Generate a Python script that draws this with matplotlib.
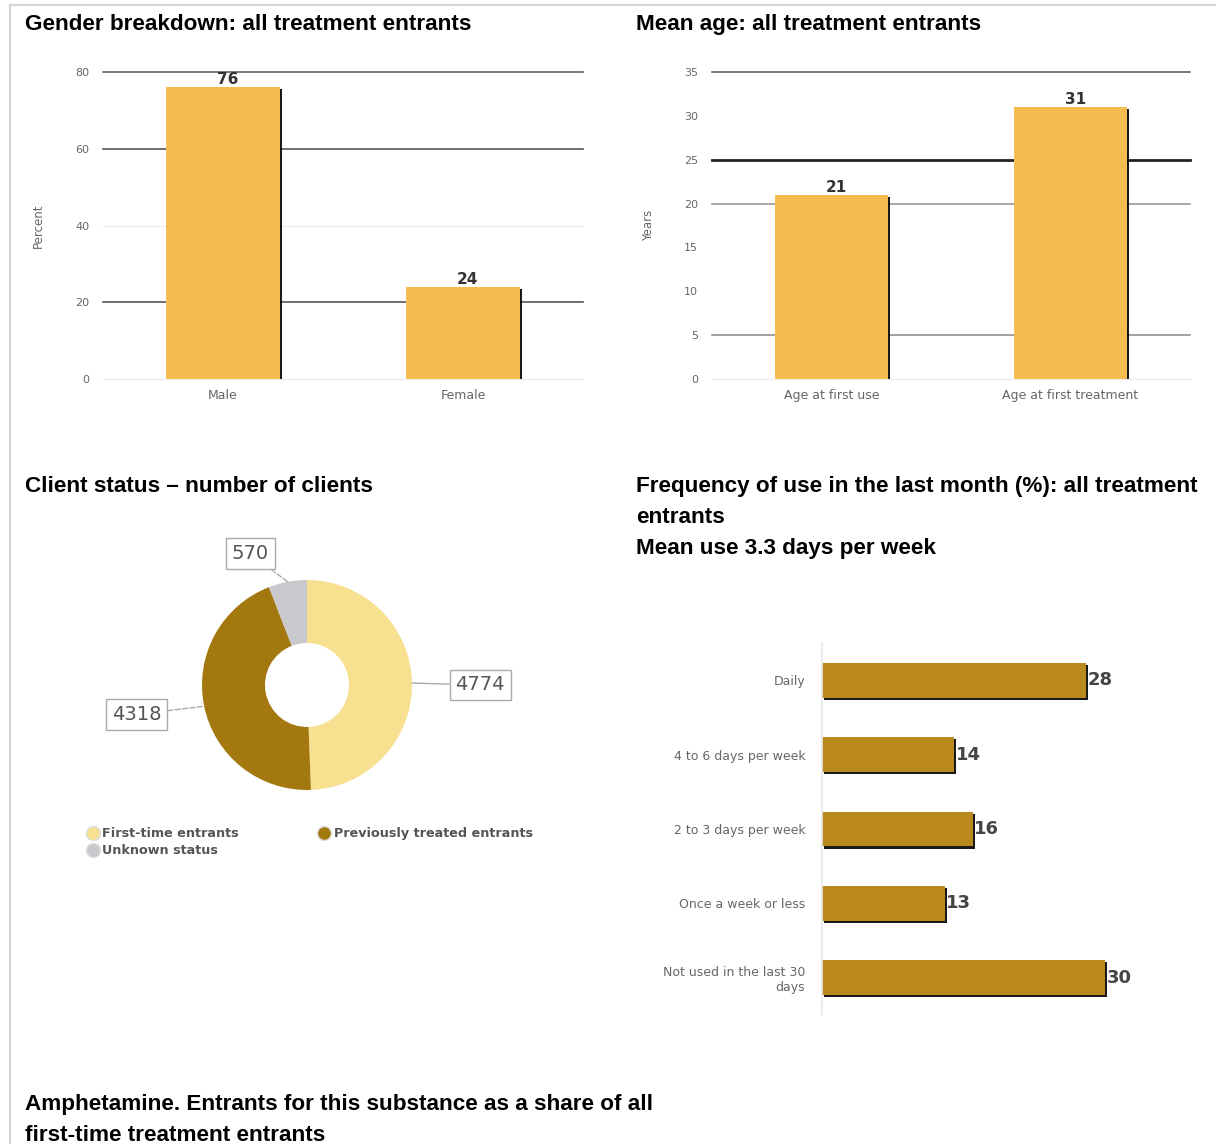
import numpy as np
import matplotlib
matplotlib.use('Agg')
import matplotlib.pyplot as plt
import matplotlib.patheffects as pe
from matplotlib.lines import Line2D

W, H = 1216, 1144
plt.rcParams['font.family'] = ['DejaVu Sans']

# data
gender_labels = ['Male', 'Female']
gender_pct = [76, 24]

age_labels = ['Age at first use', 'Age at first treatment']
age_years = [21, 31]

status_labels = ['First-time entrants', 'Previously treated entrants', 'Unknown status']
status_counts = [4774, 4318, 570]

freq_labels = ['Daily', '4 to 6 days per week', '2 to 3 days per week',
               'Once a week or less', 'Not used in the last 30\ndays']
freq_pct = [28, 14, 16, 13, 30]

# style
C_BAR = '#F5BC4F'
C_FREQ = '#BA891D'
C_STATUS = ['#F7E08F', '#A3780F', '#C9C8CC']
C_TICK = '#666666'
TITLE_FONT = 'Liberation Sans'

fig = plt.figure(figsize=(W / 100, H / 100), dpi=100)


def px_axes(x0, y0, x1, y1):
    return fig.add_axes([x0 / W, 1 - y1 / H, (x1 - x0) / W, (y1 - y0) / H])


def shadow():
    return [pe.SimplePatchShadow(offset=(1.5, -1.5), shadow_rgbFace='black', alpha=0.9),
            pe.Normal()]


def title(x, y, s):
    fig.text(x / W, 1 - y / H, s, fontsize=16.2, fontweight='bold', family=TITLE_FONT,
             ha='left', va='top', linespacing=1.63, color='black')


def vbar_panel(ax, labels, values, ticks, grid_styles, ylabel, label_x):
    x = np.arange(len(labels))
    for y, (c, lw) in zip(ticks, grid_styles):
        if c is not None:
            ax.axhline(y, color=c, lw=lw, zorder=0, clip_on=False)
    bars = ax.bar(x, values, width=0.475, color=C_BAR, zorder=2)
    for b in bars:
        b.set_path_effects(shadow())
    for xi, v in zip(x, values):
        ax.text(xi + 0.02, v, str(v), ha='center', va='bottom', fontsize=11,
                fontweight='bold', color='#333333', zorder=3)
    ax.set_xlim(-0.5, len(labels) - 0.5)
    ax.set_ylim(ticks[0], ticks[-1])
    ax.set_yticks(ticks)
    ax.set_xticks(x, labels)
    ax.tick_params(length=0, colors=C_TICK)
    ax.tick_params(axis='y', pad=10, labelsize=8)
    ax.tick_params(axis='x', pad=7, labelsize=9)
    for s in ax.spines.values():
        s.set_visible(False)
    ax.set_ylabel(ylabel, fontsize=8.5, color=C_TICK)
    ax.yaxis.set_label_coords(label_x, 0.5)


# 1. gender
title(25, 14, 'Gender breakdown: all treatment entrants')
ax1 = px_axes(103, 72, 583, 379)
dark, light = '#555555', '#eeeeee'
vbar_panel(ax1, gender_labels, gender_pct, [0, 20, 40, 60, 80],
           [(light, 1), (dark, 1.2), (light, 1), (dark, 1.2), (dark, 1.1)],
           'Percent', -58 / 480)

# 2. mean age
title(636, 14, 'Mean age: all treatment entrants')
ax2 = px_axes(712, 72, 1190, 379)
vbar_panel(ax2, age_labels, age_years, [0, 5, 10, 15, 20, 25, 30, 35],
           [(light, 1), ('#888888', 1.1), (None, 0), (None, 0), ('#999999', 1.2),
            ('#222222', 2), (None, 0), ('#555555', 1.1)],
           'Years', -57 / 478)

# 3. client status donut
title(25, 476, 'Client status \u2013 number of clients')
ax3 = px_axes(307 - 231, 685 - 231, 307 + 231, 685 + 231)
wedges, _ = ax3.pie(status_counts, colors=C_STATUS, startangle=90, counterclock=False,
                    radius=1, wedgeprops=dict(width=0.6, edgecolor='none'))
ax3.set_xlim(-2.2, 2.2)
ax3.set_ylim(-2.2, 2.2)
ax3.set_aspect('equal')
ax3.axis('off')
label_pos = [(1.65, 0.0), (-1.62, -0.28), (-0.54, 1.25)]
line_styles = ['-', '--', '--']
for w, v, pos, ls in zip(wedges, status_counts, label_pos, line_styles):
    ang = np.deg2rad((w.theta1 + w.theta2) / 2)
    ax3.annotate(str(v), xy=(np.cos(ang), np.sin(ang)), xytext=pos,
                 ha='center', va='center', fontsize=14, color='#555555',
                 bbox=dict(boxstyle='square,pad=0.3', fc='white', ec='#aaaaaa', lw=1),
                 arrowprops=dict(arrowstyle='-', color='#aaaaaa', linestyle=ls,
                                 shrinkA=0, shrinkB=0, lw=1))
order = [0, 2, 1]
handles = [Line2D([], [], marker='o', ls='none', markersize=10,
                  markerfacecolor=C_STATUS[i], markeredgecolor='#dddddd')
           for i in order]
fig.legend(handles, [status_labels[i] for i in order], loc='upper left',
           bbox_to_anchor=(80 / W, 1 - 821 / H), ncol=2, frameon=False,
           prop=dict(size=9.2, weight='bold'), labelcolor='#555555',
           handletextpad=0.25, columnspacing=6.15, labelspacing=0.3,
           handlelength=1.0, borderpad=0)

# 4. frequency of use
title(636, 476, 'Frequency of use in the last month (%): all treatment\n'
      'entrants\nMean use 3.3 days per week')
ax4 = px_axes(822, 643, 1190, 1015)
y = np.arange(len(freq_labels))
bars = ax4.barh(y, freq_pct, height=0.47, color=C_FREQ, zorder=2)
for b in bars:
    b.set_path_effects(shadow())
for yi, v in zip(y, freq_pct):
    ax4.text(v + 0.15, yi, str(v), ha='left', va='center', fontsize=13,
             fontweight='bold', color='#444444')
ax4.set_xlim(0, 39)
ax4.set_ylim(len(freq_labels) - 0.5, -0.5)
ax4.set_yticks(y, freq_labels)
ax4.set_xticks([])
ax4.tick_params(length=0, labelsize=9, colors=C_TICK, pad=12)
for s in ['top', 'right', 'bottom']:
    ax4.spines[s].set_visible(False)
ax4.spines['left'].set_color('#e8e8e8')
ax4.spines['left'].set_linewidth(1.2)

# 5. bottom title
title(25, 1094, 'Amphetamine. Entrants for this substance as a share of all\n'
      'first-time treatment entrants')

# frame lines
fig.add_artist(Line2D([10 / W, 1], [1 - 5 / H, 1 - 5 / H], transform=fig.transFigure,
                      color='#d5d5d5', lw=1.5))
fig.add_artist(Line2D([10 / W, 10 / W], [0, 1 - 5 / H], transform=fig.transFigure,
                      color='#d5d5d5', lw=1.5))

fig.savefig('out.png', dpi=100)
